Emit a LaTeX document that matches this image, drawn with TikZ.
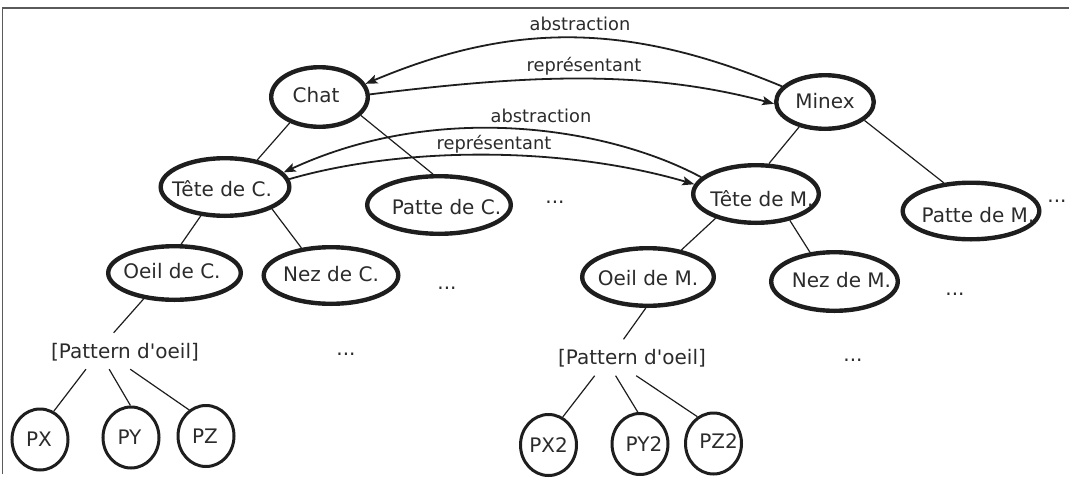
\documentclass[tikz,border=0pt]{standalone}
\usepackage{fontspec}
\setmainfont{DejaVu Sans}
\usetikzlibrary{shapes.geometric,arrows.meta}
\definecolor{ink}{HTML}{1E1E1E}
\definecolor{txt}{HTML}{2B2B2B}
\definecolor{framegray}{HTML}{5A5A5A}
% text of zero size, shifted by (#1)/2 horizontally and #2 downwards, caps centred
\newcommand\ntext[3]{\makebox[0pt]{\hspace*{#1}\raisebox{\dimexpr-0.3645em-#2\relax}[0pt][0pt]{#3}}}
\begin{document}
\begin{tikzpicture}[x=1pt,y=-1pt,
  concept/.style={ellipse, draw=ink, line width=4.4pt, inner sep=0pt, text=txt,
    font=\fontsize{20}{24}\selectfont},
  leaf/.style={ellipse, draw=ink, line width=3pt, inner sep=0pt, minimum width=56pt,
    minimum height=61pt, text=txt, font=\fontsize{20}{24}\selectfont},
  patt/.style={rectangle, inner sep=0pt, minimum width=150pt, minimum height=36pt,
    text=txt, font=\fontsize{20}{24}\selectfont},
  dots/.style={anchor=base, inner sep=0pt, text=txt, font=\fontsize{20}{24}\selectfont},
  lbl/.style={anchor=base, inner sep=0pt, text=txt, font=\fontsize{17.8}{21}\selectfont},
  link/.style={draw=ink, line width=1.2pt},
  rel/.style={draw=ink, line width=1.8pt, -{Stealth[length=12pt,width=9pt,inset=2.5pt]}},
]
\useasboundingbox (0,0) rectangle (1069,477);

% frame
\draw[framegray, line width=1.5pt] (2.5,474) -- (2.5,8) -- (1069,8);

% concept nodes
\node[concept, minimum width=96.6pt, minimum height=59.6pt] (chat) at (319.5,97) {\ntext{-7pt}{-1.6pt}{Chat}};
\node[concept, minimum width=97.6pt, minimum height=53.6pt] (minex) at (825,102) {\ntext{0pt}{-0.6pt}{Minex}};
\node[concept, minimum width=128.6pt, minimum height=57.6pt] (tetec) at (225,187) {\ntext{-6pt}{1.8pt}{Tête de C.}};
\node[concept, minimum width=143.6pt, minimum height=57.6pt] (pattec) at (439,205) {\ntext{15pt}{2pt}{Patte de C.}};
\node[concept, minimum width=125.6pt, minimum height=57.6pt] (tetem) at (756,194) {\ntext{12pt}{4.8pt}{Tête de M.}};
\node[concept, minimum width=136.6pt, minimum height=56.6pt] (pattem) at (971,211) {\ntext{14pt}{4pt}{Patte de M.}};
\node[concept, minimum width=132.6pt, minimum height=53.6pt] (oeilc) at (174.5,273) {\ntext{-5pt}{-1.5pt}{Oeil de C.}};
\node[concept, minimum width=134.6pt, minimum height=56.6pt] (nezc) at (331,275.5) {\ntext{0pt}{-1.5pt}{Nez de C.}};
\node[concept, minimum width=131.6pt, minimum height=57.6pt] (oeilm) at (648,277) {\ntext{0pt}{1.4pt}{Oeil de M.}};
\node[concept, minimum width=126.6pt, minimum height=58.6pt] (nezm) at (834.5,281.5) {\ntext{14pt}{-1.5pt}{Nez de M.}};

% pattern nodes
\node[patt] (pat1) at (125,351) {\ntext{0pt}{0pt}{[Pattern d\textquotesingle oeil]}};
\node[patt] (pat2) at (632,357.5) {\ntext{0pt}{0pt}{[Pattern d\textquotesingle oeil]}};

% leaves
\node[leaf] (px) at (40,439.5) {\ntext{-2pt}{0pt}{PX}};
\node[leaf] (py) at (131,437.5) {\ntext{-3pt}{0pt}{PY}};
\node[leaf] (pz) at (206,436) {\ntext{-2pt}{0pt}{PZ}};
\node[leaf] (px2) at (548.5,445) {\ntext{0pt}{0pt}{PX2}};
\node[leaf] (py2) at (640,444) {\ntext{8pt}{0pt}{PY2}};
\node[leaf] (pz2) at (713.5,443.5) {\ntext{10pt}{-2pt}{PZ2}};

% ellipses
\node[dots] (d1) at (555,203.3) {...};
\node[dots] (d2) at (1057,202.3) {...};
\node[dots] (d3) at (447,289.3) {...};
\node[dots] (d4) at (955,295.3) {...};
\node[dots] (d5) at (346,355.3) {...};
\node[dots] (d6) at (853,361.3) {...};

% tree links
\draw[link] (chat.221) -- (tetec.40);
\draw[link] (chat.336) -- (pattec.101);
\draw[link] (minex.224) -- (tetem.67);
\draw[link] (minex.335) -- (pattem.134);
\draw[link] (tetec.230) -- (oeilc.77);
\draw[link] (tetec.335) -- (nezc.137);
\draw[link] (tetem.211) -- (oeilm.39);
\draw[link] (tetem.322) -- (nezm.130);
\draw[link] (oeilc.220) -- (pat1.122);
\draw[link] (pat1.205) -- (px.64);
\draw[link] (pat1.229) -- (py.91);
\draw[link] (pat1.286) -- (pz.123);
\draw[link] (oeilm.266) -- (pat2.115);
\draw[link] (pat2.206) -- (px2.63);
\draw[link] (pat2.228) -- (py2.94);
\draw[link] (pat2.283) -- (pz2.121);

% relations between the two trees
\draw[rel] (minex.160) .. controls (630,23) and (515,21) .. (chat.16);
\draw[rel] (chat.3) .. controls (520,76) and (640,68) .. (minex.182);
\draw[rel] (tetem.163) .. controls (610,128) and (440,100) .. (tetec.14);
\draw[rel] (tetec.7) .. controls (400,147) and (560,145) .. (tetem.171);

% relation labels
\node[lbl] (l1) at (580,30) {abstraction};
\node[lbl] (l2) at (584,71.5) {représentant};
\node[lbl] (l3) at (541,122.7) {abstraction};
\node[lbl] (l4) at (494,149.3) {représentant};
\end{tikzpicture}
\end{document}
